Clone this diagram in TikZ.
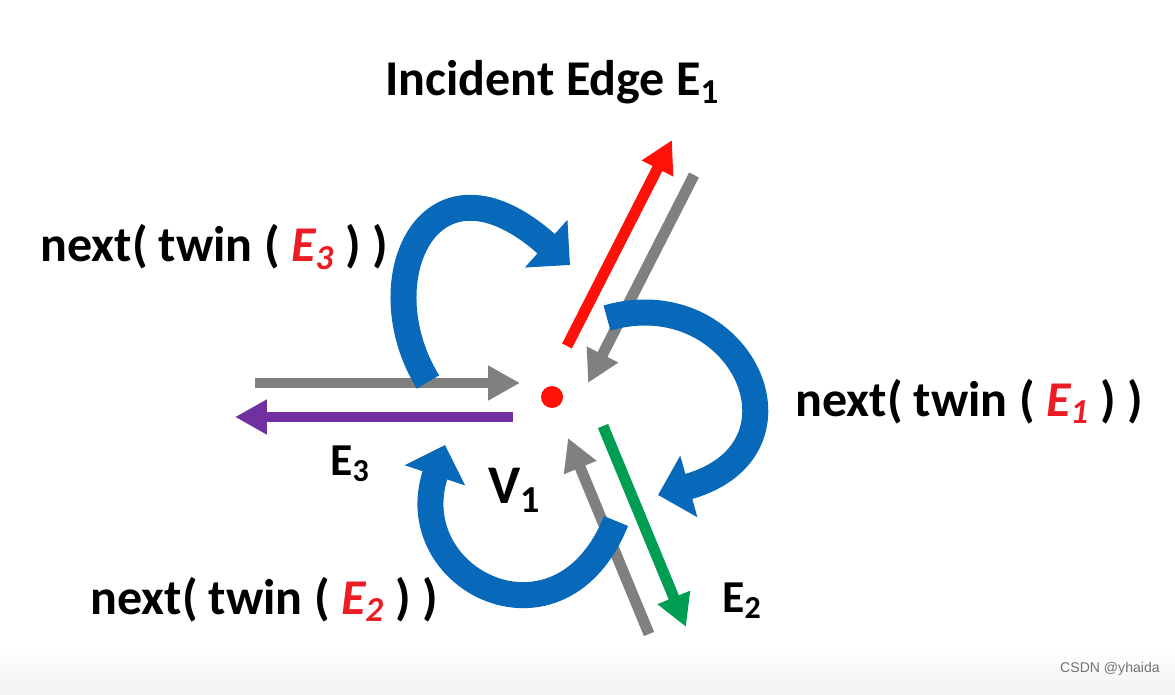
\documentclass[tikz,border=0pt]{standalone}
\usepackage{fontspec}
\setmainfont{Carlito}
\newfontfamily\markfont{Liberation Sans}
\usepackage{xcolor}
\usetikzlibrary{arrows.meta}
\definecolor{edgegray}{RGB}{128,128,128}
\definecolor{edgered}{RGB}{255,16,8}
\definecolor{edgegreen}{RGB}{0,158,82}
\definecolor{edgepurple}{RGB}{112,48,160}
\definecolor{nextblue}{RGB}{8,104,186}
\definecolor{twinred}{RGB}{236,28,36}
\newcommand{\twinE}[1]{\textcolor{twinred}{\itshape E\textsubscript{#1}}}
\tikzset{
    halfedge/.style={draw, line width=0.22cm, -{Triangle[length=0.64cm, width=0.66cm]}},
    nextarrow/.style={draw=nextblue, line width=0.52cm, -{Triangle[length=0.64cm, width=1.24cm]}},
    vertex/.style={circle, fill=edgered, minimum size=0.44cm, inner sep=0pt},
    tag/.style={inner sep=0pt, anchor=base west, font=\fontsize{28.5pt}{34pt}\selectfont\bfseries},
    smalltag/.style={inner sep=0pt, anchor=base west, font=\fontsize{26pt}{31pt}\selectfont\bfseries}
}

\begin{document}
\begin{tikzpicture}[x=0.02cm, y=-0.02cm]
    \useasboundingbox (0,0) rectangle (1175,695);
    \shade[top color=white, bottom color=black!5] (0,645) rectangle (1175,695);

    % Vertex V1
    \node[vertex] (v1) at (552,397) {};
    \node[tag, font=\fontsize{31pt}{36pt}\selectfont\bfseries] (v1name) at (488,503) {V\textsubscript{1}};

    % Half-edge end points
    \coordinate (e3in0) at (255,383);   \coordinate (e3in1) at (520,383);
    \coordinate (e3out0) at (513,417);  \coordinate (e3out1) at (235,417);
    \coordinate (e1out0) at (567,346);  \coordinate (e1out1) at (672,140);
    \coordinate (e1in0) at (694,175);   \coordinate (e1in1) at (588,383);
    \coordinate (e2out0) at (603,426);  \coordinate (e2out1) at (686,627);
    \coordinate (e2in0) at (649,634);   \coordinate (e2in1) at (568,438);

    % Half-edges
    \draw[halfedge, edgegray] (e3in0) -- (e3in1);
    \draw[halfedge, edgepurple] (e3out0) -- (e3out1);
    \draw[halfedge, edgered] (e1out0) -- (e1out1);
    \draw[halfedge, edgegray] (e1in0) -- (e1in1);
    \draw[halfedge, edgegreen] (e2out0) -- (e2out1);
    \draw[halfedge, edgegray] (e2in0) -- (e2in1);

    % next(twin()) arrows
    \coordinate (n3a) at (428,382); \coordinate (n3b) at (570,265);
    \coordinate (n1a) at (607,318); \coordinate (n1b) at (658,495);
    \coordinate (n2a) at (616,521); \coordinate (n2b) at (445,445);
    \draw[nextarrow] (n3a) .. controls (365,280) and (430,140) .. (n3b);
    \draw[nextarrow] (n1a) .. controls (740,280) and (820,450) .. (n1b);
    \draw[nextarrow] (n2a) .. controls (560,660) and (400,580) .. (n2b);

    % Labels
    \node[tag] (incident) at (385,96) {Incident Edge E\textsubscript{1}};
    \node[tag] (next3) at (40,262) {next( twin ( \twinE{3} ) )};
    \node[tag] (next1) at (795,416) {next( twin ( \twinE{1} ) )};
    \node[tag] (next2) at (90,614) {next( twin ( \twinE{2} ) )};
    \node[smalltag] (e3name) at (330,475) {E\textsubscript{3}};
    \node[smalltag] (e2name) at (722,612) {E\textsubscript{2}};
    \node[inner sep=0pt, anchor=base east, text=black!55, font=\markfont\fontsize{8pt}{10pt}\selectfont] (mark) at (1160,672) {CSDN @yhaida};
\end{tikzpicture}
\end{document}
